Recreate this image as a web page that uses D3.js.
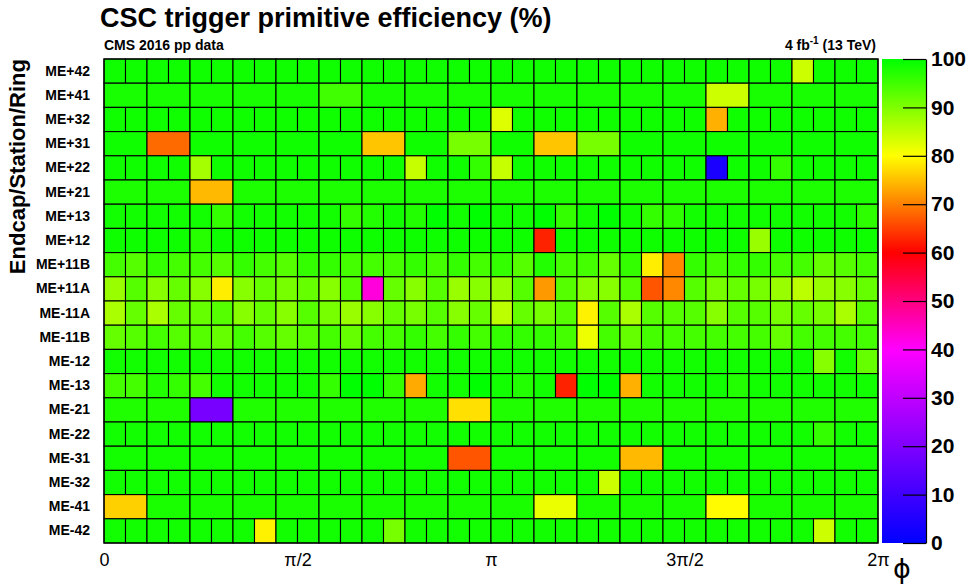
<!DOCTYPE html>
<html>
<head>
<meta charset="utf-8">
<script src="https://cdn.jsdelivr.net/npm/d3@7"></script>
<style>
  body { margin: 0; background: #fff; }
  text { font-family: "Liberation Sans", Arial, Helvetica, sans-serif; }
</style>
</head>
<body>
<div id="chart"></div>
<script>
//row labels, top to bottom
var rowLabels = ['ME+42','ME+41','ME+32','ME+31','ME+22','ME+21','ME+13','ME+12','ME+11B','ME+11A',
  'ME-11A','ME-11B','ME-12','ME-13','ME-21','ME-22','ME-31','ME-32','ME-41','ME-42'];

//efficiency (%) per chamber, 36 or 18 chambers per ring
var mePlus42 = [98.8,98.8,98.8,98.8,98.8,98.8,98.8,98.8,98.8,98.8,98.8,98.8,98.8,98.8,98.8,98.8,98.8,98.8,
  98.8,98.8,98.8,98.8,98.8,98.8,98.8,98.8,98.8,98.8,98.8,98.8,98.8,98.8,84,98.8,98.8,98.8];
var mePlus41 = [98.2,98.2,98.2,98.2,98.2,95,98.2,98.2,98.2,98.2,98.2,98.2,98.2,98.2,84,98.2,98.2,98.2];
var mePlus32 = [98.8,98.8,98.8,98.8,98.8,98.8,98.8,98.8,98.8,98.8,98.8,98.8,98.8,98.8,98.8,98.8,98.8,98.8,
  82.7,98.8,98.8,98.8,98.8,98.8,98.8,98.8,98.8,98.8,73.8,98.8,98.8,98.8,98.8,98.8,98.8,98.8];
var mePlus31 = [98.8,68.3,98.8,98.8,98.8,98.8,75.5,98.8,90.7,98.8,75.5,90.7,98.8,98.8,98.8,98.8,98.8,98.8];
var mePlus22 = [98.8,98.8,98.8,98.8,87,98.8,98.8,98.8,98.8,98.8,98.8,98.8,98.8,98.8,84.5,98.8,98.8,96,
  84.5,98.8,98.8,98.8,98.8,98.8,98.8,98.8,98.8,98.8,4,98.8,98.8,96,98.8,98.8,98.8,98.8];
var mePlus21 = [97.8,97.8,74.5,97.8,97.8,97.8,97.8,97.8,97.8,97.8,97.8,97.8,97.8,97.8,97.8,97.8,97.8,97.8];
var mePlus13 = [98.7,98.7,98.7,98.7,98.7,96,98.7,98.7,98.7,98.7,98.7,96,97.3,98.7,97.3,100,98.7,100,
  98.7,98.7,100,96,98.7,100,98.7,96,96.5,98.7,98.7,98.7,98.7,98.7,98.7,98.7,98.7,96.5];
var mePlus12 = [99,99,99,99,97,99,99,99,99,99,99,99,99,99,99,99,99,99,
  99,99,62.7,99,99,99,99,99,99,99,99,99,88,99,99,99,99,99];
var mePlus11B = [94.7,93.3,96,94.7,94.7,93.3,96,94.7,93.3,96,96,94.7,94.7,94.7,96,94.7,96,94.7,
  96,93.3,97.3,94.7,94.7,92,96,78.7,70.7,96,94.7,96,96,94.7,94.7,92,93.3,94.7];
var mePlus11A = [88,93.3,89.3,92,89.3,78.7,89.3,92,90.7,92,89.3,93.3,42.7,92,89.3,93.3,88,89.3,
  88,93.3,72,93.3,89.3,89.3,93.3,66.7,70.7,93.3,90.7,92,90.7,88,85.3,88,89.3,92];
var meMinus11A = [86.7,92,86.7,92,92,93.3,89.3,92,89.3,93.3,90.7,88,89.3,92,90.7,93.3,89.3,92,
  85.3,92,90.7,93.3,79,93.3,86.7,93.3,93.3,93.3,89.3,93.3,93.3,90.7,92,90.7,86.7,93.3];
var meMinus11B = [92,93.3,94.7,93.3,93.3,92,94.7,93.3,92,93.3,94.7,92,94.7,94.7,96,94.7,96,94.7,
  96,96,96,94.7,81.3,94.7,92,94.7,94.7,94.7,94.7,94.7,94.7,92,94.7,94.7,94.7,94.7];
var meMinus12 = [98.7,98.7,98.7,98.7,98.7,98.7,98.7,98.7,98.7,98.7,98.7,98.7,98.7,98.7,98.7,98.7,98.7,98.7,
  98.7,98.7,98.7,98.7,98.7,98.7,98.7,98.7,98.7,98.7,98.7,98.7,98.7,98.7,98.7,89.3,98.7,92];
var meMinus13 = [94.7,94.7,97.3,96,94.7,98.7,98.7,98.7,98.7,98.7,96,100,100,96,73.3,98.7,98.7,100,
  98.7,97.3,98.7,62.7,100,100,73.8,98.7,98.7,98.7,98.7,97.3,98.7,98.7,98.7,98.7,98.7,98.7];
var meMinus21 = [97.5,97.5,18.7,97.5,97.5,97.5,97.5,97.5,77.6,97.5,97.5,97.5,97.5,97.5,97.5,97.5,97.5,97.5];
var meMinus22 = [98.7,98.7,98.7,98.7,98.7,98.7,98.7,98.7,98.7,98.7,98.7,98.7,98.7,98.7,98.7,98.7,98.7,98.7,
  98.7,98.7,98.7,98.7,98.7,98.7,98.7,98.7,98.7,98.7,98.7,98.7,98.7,98.7,98.7,96,98.7,98.7];
var meMinus31 = [98.5,98.5,98.5,98.5,98.5,98.5,98.5,98.5,66.7,98.5,98.5,98.5,74.5,98.5,98.5,98.5,98.5,98.5];
var meMinus32 = [98.7,98.7,98.7,98.7,98.7,98.7,98.7,98.7,98.7,98.7,98.7,98.7,98.7,98.7,98.7,98.7,98.7,98.7,
  98.7,98.7,98.7,98.7,98.7,84,98.7,98.7,98.7,98.7,98.7,98.7,98.7,98.7,98.7,98.7,98.7,98.7];
var meMinus41 = [76.3,98,98,98,98,98,98,98,98,98,81.5,98,98,98,79.8,98,98,98];
var meMinus42 = [98.7,98.7,98.7,98.7,98.7,98.7,98.7,79,98.7,98.7,98.7,98.7,98.7,90.7,98.7,98.7,98.7,98.7,
  98.7,98.7,98.7,98.7,98.7,98.7,98.7,98.7,98.7,98.7,98.7,98.7,98.7,98.7,98.7,84,98.7,98.7];

var rowValues = [mePlus42, mePlus41, mePlus32, mePlus31, mePlus22, mePlus21, mePlus13, mePlus12, mePlus11B, mePlus11A,
  meMinus11A, meMinus11B, meMinus12, meMinus13, meMinus21, meMinus22, meMinus31, meMinus32, meMinus41, meMinus42];

//x axis ticks
var phiTicks = [0, Math.PI / 2, Math.PI, 3 * Math.PI / 2, 2 * Math.PI];
var phiTickLabels = ['0', 'π/2', 'π', '3π/2', '2π'];
//colour bar ticks
var zTicks = [0, 10, 20, 30, 40, 50, 60, 70, 80, 90, 100];

//dimensions
var width = 972, height = 587;
var plot = {left: 104, right: 878, top: 59, bottom: 543};
var bar = {left: 882, right: 926};

var svg = d3.select('#chart')
  .append('svg')
  .attr('width', width)
  .attr('height', height);

//scales
var x = d3.scaleLinear().domain([0, 2 * Math.PI]).range([plot.left, plot.right]);
var y = d3.scaleBand().domain(rowLabels).range([plot.top, plot.bottom]);
var zStops = [0, 40, 60, 80, 100];
var color = d3.scaleLinear()
  .domain(zStops)
  .range(['#0000ff', '#ff00ff', '#ff0000', '#ffff00', '#00ff00']);
var z = d3.scaleLinear().domain([0, 100]).range([plot.bottom, plot.top]);

//cells
var cells = [];
rowLabels.forEach(function(label, i) {
  var vals = rowValues[i];
  var step = 2 * Math.PI / vals.length;
  vals.forEach(function(v, j) {
    cells.push({row: label, x0: j * step, x1: (j + 1) * step, value: v});
  });
});

svg.append('g')
  .selectAll('rect')
  .data(cells)
  .enter()
  .append('rect')
  .attr('x', function(d) { return x(d.x0); })
  .attr('y', function(d) { return y(d.row); })
  .attr('width', function(d) { return x(d.x1) - x(d.x0); })
  .attr('height', y.bandwidth())
  .attr('fill', function(d) { return color(d.value); })
  .attr('stroke', '#000')
  .attr('stroke-width', 1.1);

//frame
svg.append('rect')
  .attr('x', plot.left).attr('y', plot.top)
  .attr('width', plot.right - plot.left).attr('height', plot.bottom - plot.top)
  .attr('fill', 'none').attr('stroke', '#000').attr('stroke-width', 1.2);

//x axis
var xAxis = svg.append('g')
  .attr('transform', 'translate(0,' + plot.bottom + ')')
  .call(d3.axisBottom(x)
    .tickValues(phiTicks)
    .tickFormat(function(d, i) { return phiTickLabels[i]; })
    .tickSize(0)
    .tickPadding(10));
xAxis.select('.domain').remove();
xAxis.selectAll('text')
  .style('font-size', '18px')
  .style('font-family', '"Liberation Sans", Arial, sans-serif')
  .attr('fill', '#000');

//y axis
var yAxis = svg.append('g')
  .attr('transform', 'translate(' + plot.left + ',0)')
  .call(d3.axisLeft(y).tickSize(0).tickPadding(14));
yAxis.select('.domain').remove();
yAxis.selectAll('text')
  .style('font-size', '14px')
  .style('font-weight', 'bold')
  .style('font-family', '"Liberation Sans", Arial, sans-serif')
  .attr('fill', '#000');

//colour bar gradient
var grad = svg.append('defs').append('linearGradient')
  .attr('id', 'zgrad')
  .attr('x1', 0).attr('y1', 1).attr('x2', 0).attr('y2', 0);
grad.selectAll('stop')
  .data(zStops)
  .enter()
  .append('stop')
  .attr('offset', function(d) { return d / 100; })
  .attr('stop-color', function(d) { return color(d); });

svg.append('rect')
  .attr('x', bar.left).attr('y', plot.top)
  .attr('width', bar.right - bar.left).attr('height', plot.bottom - plot.top)
  .attr('fill', 'url(#zgrad)');

var zAxis = svg.append('g')
  .attr('transform', 'translate(' + bar.right + ',0)')
  .call(d3.axisRight(z).tickValues(zTicks).tickSizeInner(-23).tickSizeOuter(0).tickPadding(5));
zAxis.select('.domain').attr('stroke-width', 1.2);
zAxis.selectAll('.tick line').attr('stroke-width', 1.2);
zAxis.selectAll('text')
  .style('font-size', '21px')
  .style('font-weight', 'bold')
  .style('font-family', '"Liberation Sans", Arial, sans-serif')
  .attr('fill', '#000');

//titles
svg.append('text')
  .attr('x', 100).attr('y', 27)
  .style('font-size', '27px').style('font-weight', 'bold')
  .text('CSC trigger primitive efficiency (%)');

svg.append('text')
  .attr('x', 104).attr('y', 50)
  .style('font-size', '14px').style('font-weight', 'bold')
  .text('CMS 2016 pp data');

var lumi = svg.append('text')
  .attr('x', 876).attr('y', 50)
  .attr('text-anchor', 'end')
  .style('font-size', '14px').style('font-weight', 'bold');
lumi.append('tspan').text('4 fb');
lumi.append('tspan').attr('dy', -6).style('font-size', '10px').text('-1');
lumi.append('tspan').attr('dy', 6).text(' (13 TeV)');

svg.append('text')
  .attr('transform', 'translate(25,' + plot.top + ') rotate(-90)')
  .attr('text-anchor', 'end')
  .style('font-size', '22px').style('font-weight', 'bold')
  .text('Endcap/Station/Ring');

//axis title phi, straight-stroke glyph
svg.append('text')
  .attr('x', 902).attr('y', 578)
  .attr('text-anchor', 'middle')
  .style('font-family', '"DejaVu Sans", sans-serif')
  .style('font-size', '27px')
  .text('ϕ');
</script>
</body>
</html>
